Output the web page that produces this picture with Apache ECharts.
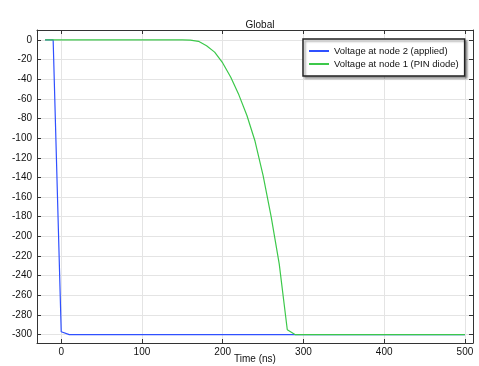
<!DOCTYPE html>
<html><head><meta charset="utf-8">
<script src="https://cdn.jsdelivr.net/npm/echarts@6/dist/echarts.min.js"></script>
<style>html,body{margin:0;padding:0;background:#fff}#c{width:479px;height:366px}</style>
</head><body><div id="c"></div>
<script>
const xTicks = [0, 100, 200, 300, 400, 500];
const yTicks = [0, -20, -40, -60, -80, -100, -120, -140, -160, -180, -200, -220, -240, -260, -280, -300];
const appliedTime = [-20, -10, 0, 10, 500];
const appliedVolt = [0, 0, -297, -300, -300];
const diodeTime = [-20, 150, 160, 170, 180, 190, 200, 210, 220, 230, 240, 250, 260, 270, 280, 290, 500];
const diodeVolt = [0, 0, -0.3, -1.5, -6, -12.5, -23.5, -38, -56, -77, -103, -138, -180, -228, -295, -300, -300];
const seriesNames = ['Voltage at node 2 (applied)', 'Voltage at node 1 (PIN diode)'];

const zip = (a, b) => a.map((v, i) => [v, b[i]]);
const font = 'Liberation Sans';
const axColor = '#333';
const txt = '#111';
const baseAxis = {
  type: 'value',
  axisLine: { show: true, onZero: false, lineStyle: { color: axColor, width: 1 } },
  axisTick: { inside: true, length: 4, lineStyle: { color: axColor } },
  axisLabel: { color: txt, fontFamily: font, fontSize: 10 },
  splitLine: { show: true, lineStyle: { color: '#e4e4e4', width: 1 } }
};
const chart = echarts.init(document.getElementById('c'), null, { renderer: 'canvas' });
chart.setOption({
  animation: false,
  title: { text: 'Global', left: 255, top: 15, textAlign: 'center',
    textStyle: { fontFamily: font, fontSize: 10, fontWeight: 'normal', color: txt } },
  grid: { left: 37, right: 6, top: 30, bottom: 23, containLabel: false, outerBoundsMode: 'none' },
  legend: {
    orient: 'vertical', left: 303, top: 39,
    data: seriesNames,
    itemWidth: 20, itemHeight: 2, itemGap: 3, icon: 'rect',
    padding: [7, 6, 7, 6],
    borderColor: '#222', borderWidth: 1.5,
    backgroundColor: '#fff',
    shadowColor: 'rgba(0,0,0,0.35)', shadowOffsetX: 2, shadowOffsetY: 2, shadowBlur: 2,
    textStyle: { fontFamily: font, fontSize: 9.5, color: txt }
  },
  xAxis: [
    Object.assign({}, baseAxis, { min: -30, max: 510, position: 'bottom',
      name: 'Time (ns)', nameLocation: 'middle', nameGap: 11, nameMoveOverlap: false,
      nameTextStyle: { fontFamily: font, fontSize: 10, color: txt, verticalAlign: 'top' },
      axisTick: Object.assign({}, baseAxis.axisTick, { customValues: xTicks }),
      axisLabel: Object.assign({}, baseAxis.axisLabel, { customValues: xTicks, margin: 4 }) }),
    Object.assign({}, baseAxis, { min: -30, max: 510, position: 'top',
      axisTick: Object.assign({}, baseAxis.axisTick, { customValues: xTicks }),
      axisLabel: { show: false, customValues: xTicks }, splitLine: { show: false } })
  ],
  yAxis: [
    Object.assign({}, baseAxis, { min: -308.5, max: 10, position: 'left',
      axisTick: Object.assign({}, baseAxis.axisTick, { customValues: yTicks }),
      axisLabel: Object.assign({}, baseAxis.axisLabel, { customValues: yTicks, margin: 5 }) }),
    Object.assign({}, baseAxis, { min: -308.5, max: 10, position: 'right',
      axisTick: Object.assign({}, baseAxis.axisTick, { customValues: yTicks }),
      axisLabel: { show: false, customValues: yTicks }, splitLine: { show: false } })
  ],
  series: [
    { name: seriesNames[0], type: 'line', data: zip(appliedTime, appliedVolt), showSymbol: false,
      lineStyle: { color: '#2f50ff', width: 1.2 }, itemStyle: { color: '#2f50ff' } },
    { name: seriesNames[1], type: 'line', data: zip(diodeTime, diodeVolt), showSymbol: false,
      lineStyle: { color: '#3cc84a', width: 1.2 }, itemStyle: { color: '#3cc84a' } }
  ]
});
</script></body></html>
